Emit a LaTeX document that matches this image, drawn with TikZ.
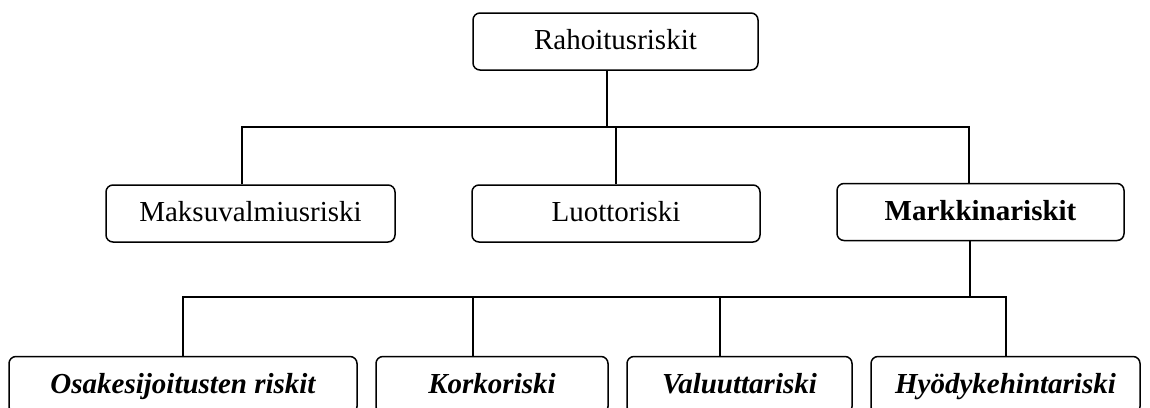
\documentclass[tikz,border=0pt]{standalone}
\usepackage{fontspec}
\setmainfont{Liberation Serif}
\begin{document}
\begin{tikzpicture}[x=1pt,y=-1pt,
  box/.style={draw, line width=1.5pt, rounded corners=7pt, minimum height=57pt,
    inner sep=0pt, text height=21pt, text depth=5pt,
    font=\fontsize{29}{34}\selectfont},
  strong/.style={box, font=\fontsize{29}{34}\selectfont\bfseries},
  sub/.style={box, font=\fontsize{29}{34}\selectfont\bfseries\itshape},
  link/.style={line width=1.5pt}]
\useasboundingbox (0,0) rectangle (1150,407);
\clip (0,0) rectangle (1150,407);

% top level
\node[box, minimum width=285pt] (top) at (615.5,41.5) {Rahoitusriskit};

% second level
\node[box, minimum width=289pt] (maksu) at (250.5,213.5) {Maksuvalmiusriski};
\node[box, minimum width=288pt] (luotto) at (616,213.5) {Luottoriski};
\node[strong, minimum width=287pt] (markk) at (980.5,212) {Markkinariskit};

% third level
\node[sub, minimum width=348pt] (osake) at (183,385) {Osakesijoitusten riskit};
\node[sub, minimum width=232pt] (korko) at (492,385) {Korkoriski};
\node[sub, minimum width=225pt] (valuutta) at (739.5,385) {Valuuttariski};
\node[sub, minimum width=269pt] (hyody) at (1005.5,385) {Hyödykehintariski};

% junction points of the connector bars
\coordinate (h1) at (607,127);
\coordinate (h1l) at (242,127);
\coordinate (h1r) at (969,127);
\coordinate (h2l) at (183,297);
\coordinate (h2r) at (1006,297);
\coordinate (m2) at (970,297);
\coordinate (k2) at (473,297);
\coordinate (v2) at (720,297);

% first bar
\draw[link] (top.south -| h1) -- (h1);
\draw[link] (maksu.north -| h1l) |- (h1r) -- (markk.north -| h1r);
\draw[link] (luotto.north) -- (luotto.north |- h1);

% second bar
\draw[link] (markk.south -| m2) -- (m2);
\draw[link] (osake.north) |- (h2r) -- (hyody.north -| h2r);
\draw[link] (k2) -- (korko.north -| k2);
\draw[link] (v2) -- (valuutta.north -| v2);
\end{tikzpicture}
\end{document}
